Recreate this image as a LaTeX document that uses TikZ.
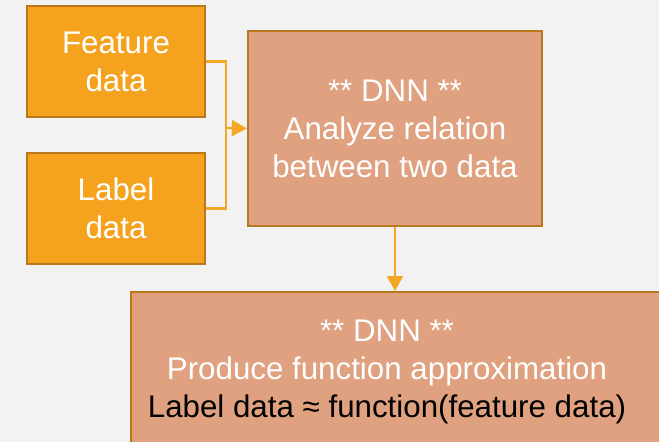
\documentclass[tikz,border=0pt]{standalone}
\usepackage{fontspec}
\setmainfont{Liberation Sans}
\usetikzlibrary{arrows.meta}
\definecolor{bg}{HTML}{F2F2F2}
\definecolor{orfill}{HTML}{F5A31F}
\definecolor{orline}{HTML}{B9781C}
\definecolor{safill}{HTML}{DFA17F}
\definecolor{conncol}{HTML}{F5A623}
\tikzset{
  x=1pt,y=-1pt,
  txt/.style={font=\fontsize{31.3}{38}\selectfont, text=white, align=center},
  orbox/.style={draw=orline, line width=2.3pt, fill=orfill, minimum width=178pt, minimum height=111pt, inner sep=0pt, txt},
  sabox/.style={draw=orline, line width=2.3pt, fill=safill, inner sep=0pt},
  conn/.style={draw=conncol, line width=2.3pt},
  tip/.style={-{Triangle[length=15pt,width=16pt]}}
}
\begin{document}
\begin{tikzpicture}
\fill[bg] (0,0) rectangle (659,442);
\useasboundingbox (0,0) rectangle (659,442);
\clip (0,0) rectangle (659,442);
\node[orbox] (feat) at (116,61.5) {Feature\\data};
\node[orbox] (lab) at (116,208.5) {Label\\data};
\node[sabox, minimum width=294pt, minimum height=195pt, txt] (dnn) at (395,128.5) {** DNN **\\Analyze relation\\between two data};
\node[sabox, anchor=north west, minimum width=600pt, minimum height=200pt] (out) at (130,291) {};
\node[txt, anchor=center] (outtext) at (387,372) {** DNN **\\Produce function approximation\\\textcolor{black}{Label data ≈ function(feature data)}};
\coordinate (j) at (226,128);
\draw[conn] (feat.east) -| (j) |- (lab.east);
\draw[conn, tip] (j) -- (dnn.west);
\draw[conn, tip] (dnn.south) -- (dnn.south |- out.north);
\end{tikzpicture}
\end{document}
